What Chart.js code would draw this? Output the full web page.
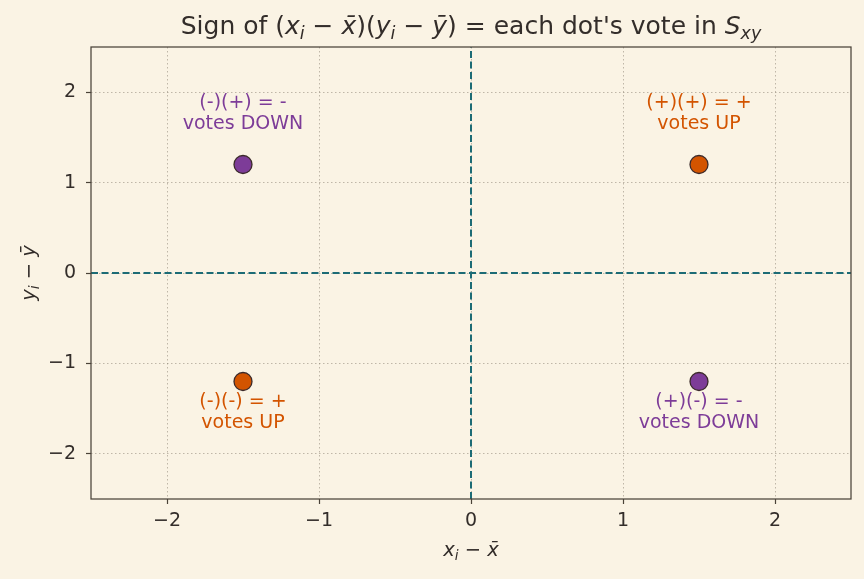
<!DOCTYPE html>
<html>
<head>
<meta charset="utf-8">
<script src="https://cdn.jsdelivr.net/npm/chart.js@4"></script>
<style>
  html, body { margin: 0; padding: 0; background: #faf3e4; }
  #wrap { width: 864px; height: 579px; }
</style>
</head>
<body>
<div id="wrap"><canvas id="chart"></canvas></div>
<script>
// data
const xVals = [-1.5, 1.5, -1.5, 1.5];
const yVals = [1.2, 1.2, -1.2, -1.2];
const dotColors = ['#7d3c98', '#d35400', '#d35400', '#7d3c98'];
const tickVals = [-2, -1, 0, 1, 2];
const noteX = [-1.5, 1.5, -1.5, 1.5];
const noteY = [1.765, 1.765, -1.54, -1.54];
const noteLines = [
  ['(-)(+) = -', 'votes DOWN'],
  ['(+)(+) = +', 'votes UP'],
  ['(-)(-) = +', 'votes UP'],
  ['(+)(-) = -', 'votes DOWN'],
];
const noteColors = ['#7d3c98', '#d35400', '#d35400', '#7d3c98'];

const INK = '#332d2a';
const FONT = '"DejaVu Sans", sans-serif';
const fmt = v => (v < 0 ? '\u2212' + Math.abs(v) : String(v));

// draw a list of text pieces, optionally italic / subscript, centred at (cx, cy)
function richText(ctx, parts, cx, cy, size, rotate) {
  ctx.save();
  ctx.translate(cx, cy);
  if (rotate) ctx.rotate(-Math.PI / 2);
  ctx.textBaseline = 'middle';
  ctx.textAlign = 'left';
  ctx.fillStyle = INK;
  const fontOf = p => (p.i ? 'italic ' : '') + (p.sub ? size * 0.7 : size) + 'px ' + FONT;
  let w = 0;
  parts.forEach(p => { ctx.font = fontOf(p); w += ctx.measureText(p.t).width; });
  let x = -w / 2;
  parts.forEach(p => {
    ctx.font = fontOf(p);
    ctx.fillText(p.t, x, p.sub ? size * 0.3 : 0);
    x += ctx.measureText(p.t).width;
  });
  ctx.restore();
}

const decor = {
  id: 'decor',
  afterDatasetsDraw(chart) {
    const { ctx, scales: { x, y } } = chart;
    ctx.save();
    ctx.font = '19px ' + FONT;
    ctx.textAlign = 'center';
    ctx.textBaseline = 'middle';
    noteLines.forEach((lines, i) => {
      ctx.fillStyle = noteColors[i];
      const px = x.getPixelForValue(noteX[i]);
      const py = y.getPixelForValue(noteY[i]);
      ctx.fillText(lines[0], px, py - 10.5);
      ctx.fillText(lines[1], px, py + 10.5);
    });
    ctx.restore();
  },
  afterDraw(chart) {
    const { ctx, chartArea: a } = chart;
    ctx.save();
    ctx.strokeStyle = '#4a4238';
    ctx.lineWidth = 1.25;
    ctx.strokeRect(a.left, a.top, a.right - a.left, a.bottom - a.top);
    ctx.restore();
    const cx = (a.left + a.right) / 2;
    richText(ctx, [
      { t: 'Sign of (' }, { t: 'x', i: 1 }, { t: 'i', i: 1, sub: 1 }, { t: ' \u2212 ' },
      { t: 'x\u0304', i: 1 }, { t: ')(' }, { t: 'y', i: 1 }, { t: 'i', i: 1, sub: 1 },
      { t: ' \u2212 ' }, { t: 'y\u0304', i: 1 }, { t: ') = each dot\'s vote in ' },
      { t: 'S', i: 1 }, { t: 'xy', i: 1, sub: 1 }
    ], cx, 27, 25);
    richText(ctx, [
      { t: 'x', i: 1 }, { t: 'i', i: 1, sub: 1 }, { t: ' \u2212 ' }, { t: 'x\u0304', i: 1 }
    ], cx, 551, 19.5);
    richText(ctx, [
      { t: 'y', i: 1 }, { t: 'i', i: 1, sub: 1 }, { t: ' \u2212 ' }, { t: 'y\u0304', i: 1 }
    ], 30, (a.top + a.bottom) / 2, 19.5, true);
  }
};

const gridOpts = {
  color: 'rgba(140,130,115,0.6)',
  lineWidth: 0.9,
  tickColor: '#4a4238',
  tickLength: 5,
  tickWidth: 1.2,
  tickBorderDash: [],
};

new Chart(document.getElementById('chart'), {
  type: 'scatter',
  data: {
    datasets: [
      {
        data: xVals.map((v, i) => ({ x: v, y: yVals[i] })),
        backgroundColor: dotColors,
        borderColor: '#3b2a2a',
        borderWidth: 1.3,
        pointRadius: 9,
        order: 0,
      },
      {
        data: [{ x: 0, y: -2.5 }, { x: 0, y: 2.5 }],
        showLine: true,
        borderColor: '#1c6b75',
        borderWidth: 2,
        borderDash: [7, 3.5],
        pointRadius: 0,
        order: 1,
      },
      {
        data: [{ x: -2.5, y: 0 }, { x: 2.5, y: 0 }],
        showLine: true,
        borderColor: '#1c6b75',
        borderWidth: 2,
        borderDash: [7, 3.5],
        pointRadius: 0,
        order: 1,
      },
    ],
  },
  options: {
    responsive: true,
    maintainAspectRatio: false,
    animation: false,
    layout: { padding: { left: 0, right: 13, top: 47, bottom: 0 } },
    plugins: { legend: { display: false }, tooltip: { enabled: false } },
    scales: {
      x: {
        min: -2.5, max: 2.5,
        afterBuildTicks: s => { s.ticks = tickVals.map(v => ({ value: v })); },
        afterFit: s => { s.height = 80; },
        grid: gridOpts,
        border: { display: false, dash: [1.5, 2.5] },
        ticks: { color: INK, font: { family: FONT, size: 19 }, padding: 6, callback: fmt },
      },
      y: {
        min: -2.5, max: 2.5,
        afterBuildTicks: s => { s.ticks = tickVals.map(v => ({ value: v })); },
        afterFit: s => { s.width = 91; },
        grid: gridOpts,
        border: { display: false, dash: [1.5, 2.5] },
        ticks: { color: INK, font: { family: FONT, size: 19 }, padding: 10, callback: fmt },
      },
    },
  },
  plugins: [decor],
});
</script>
</body>
</html>
